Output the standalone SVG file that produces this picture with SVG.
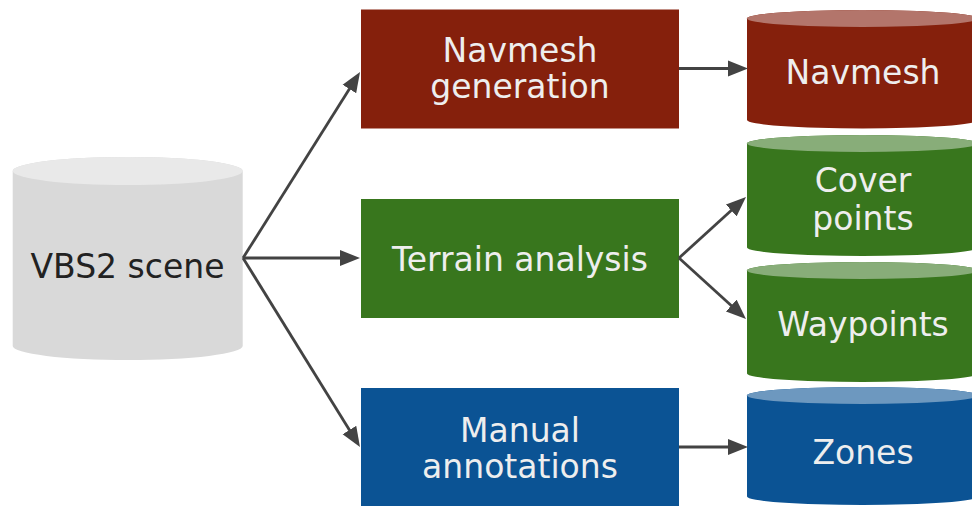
<svg xmlns="http://www.w3.org/2000/svg" width="972" height="506" viewBox="0 0 972 506">
<defs>
<style>
.t{font-family:"DejaVu Sans","Verdana",sans-serif;font-size:33px;text-anchor:middle;fill:#eeeeee}
.dk{fill:#222222}
.edge{stroke:#434343;stroke-width:2.8;fill:none}
.red{fill:#85200c}.redt{fill:#b3756b}
.grn{fill:#38761d}.grnt{fill:#88ad79}
.blu{fill:#0b5394}.blut{fill:#6d98bf}
.gry{fill:#d9d9d9}.gryt{fill:#e9e9e9}
</style>
<marker id="ah" markerUnits="userSpaceOnUse" markerWidth="20" markerHeight="17" refX="10" refY="8.5" orient="auto">
<path d="M0,0.5 L20,8.5 L0,16.5 z" fill="#434343"/>
</marker>
</defs>
<rect width="972" height="506" fill="#ffffff"/>

<g id="vbs2">
<path class="gry" d="M12.7,171 A115,14 0 0 1 242.7,171 L242.7,346 A115,14 0 0 1 12.7,346 Z"/>
<ellipse class="gryt" cx="127.7" cy="171" rx="115" ry="14"/>
<text class="t dk" x="127.5" y="278">VBS2 scene</text>
</g>

<g id="navgen">
<rect class="red" x="361" y="9.5" width="318" height="119"/>
<text class="t" x="520" y="62">Navmesh</text>
<text class="t" x="520" y="98">generation</text>
</g>

<g id="terrain">
<rect class="grn" x="361" y="199" width="318" height="119"/>
<text class="t" x="520" y="270.5">Terrain analysis</text>
</g>

<g id="manual">
<rect class="blu" x="361" y="388" width="318" height="119"/>
<text class="t" x="520" y="442">Manual</text>
<text class="t" x="520" y="478">annotations</text>
</g>

<g id="navmesh">
<path class="red" d="M747,18.5 A115.5,8.5 0 0 1 978,18.5 L978,120 A115.5,8.5 0 0 1 747,120 Z"/>
<ellipse class="redt" cx="862.5" cy="18.5" rx="115.5" ry="8.5"/>
<text class="t" x="863" y="83.5">Navmesh</text>
</g>

<g id="cover">
<path class="grn" d="M747,143.5 A115.5,8.5 0 0 1 978,143.5 L978,247.5 A115.5,8.5 0 0 1 747,247.5 Z"/>
<ellipse class="grnt" cx="862.5" cy="143.5" rx="115.5" ry="8.5"/>
<text class="t" x="863" y="192">Cover</text>
<text class="t" x="863" y="230">points</text>
</g>

<g id="waypoints">
<path class="grn" d="M747,270.5 A115.5,8.5 0 0 1 978,270.5 L978,373.5 A115.5,8.5 0 0 1 747,373.5 Z"/>
<ellipse class="grnt" cx="862.5" cy="270.5" rx="115.5" ry="8.5"/>
<text class="t" x="863" y="335.5">Waypoints</text>
</g>

<g id="zones">
<path class="blu" d="M747,395.5 A115.5,8.5 0 0 1 978,395.5 L978,496.5 A115.5,8.5 0 0 1 747,496.5 Z"/>
<ellipse class="blut" cx="862.5" cy="395.5" rx="115.5" ry="8.5"/>
<text class="t" x="863" y="463.5">Zones</text>
</g>

<g id="connectors">
<line class="edge" x1="243" y1="258" x2="354.7" y2="80.5" marker-end="url(#ah)"/>
<line class="edge" x1="243" y1="258" x2="350" y2="258" marker-end="url(#ah)"/>
<line class="edge" x1="243" y1="258" x2="354.7" y2="438.5" marker-end="url(#ah)"/>
<line class="edge" x1="679" y1="68.5" x2="738" y2="68.5" marker-end="url(#ah)"/>
<line class="edge" x1="679" y1="258" x2="738.6" y2="203.7" marker-end="url(#ah)"/>
<line class="edge" x1="679" y1="258" x2="738.6" y2="312.3" marker-end="url(#ah)"/>
<line class="edge" x1="679" y1="447" x2="738" y2="447" marker-end="url(#ah)"/>
</g>
</svg>
